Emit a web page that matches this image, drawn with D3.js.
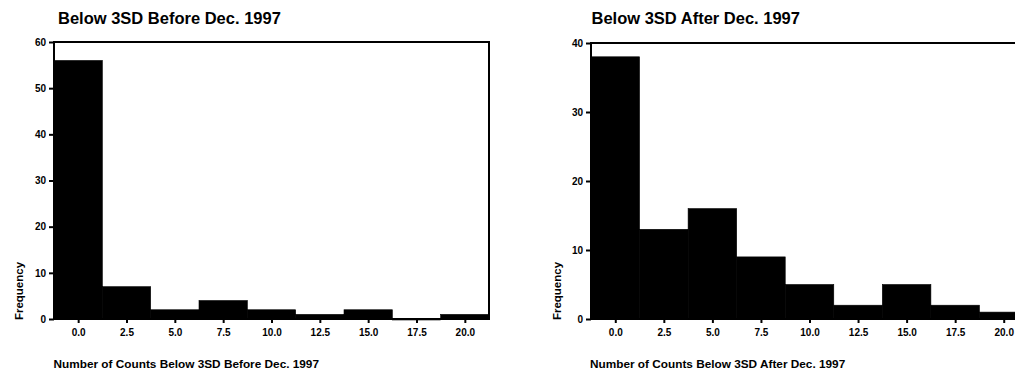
<!DOCTYPE html>
<html>
<head>
<meta charset="utf-8">
<script src="https://cdn.jsdelivr.net/npm/d3@7"></script>
<style>
  html, body { margin: 0; padding: 0; background: #fff; overflow: hidden; }
  svg { display: block; }
  text { font-family: "Liberation Sans", Arial, Helvetica, sans-serif; fill: #000; }
</style>
</head>
<body>
<svg id="chart" width="1015" height="372"></svg>
<script>
// ---- data ----
const binCenters = [0, 2.5, 5, 7.5, 10, 12.5, 15, 17.5, 20];
const binWidth = 2.5;
const beforeCounts = [56, 7, 2, 4, 2, 1, 2, 0, 1];
const afterCounts  = [38, 13, 16, 9, 5, 2, 5, 2, 1];
const beforeYTicks = [0, 10, 20, 30, 40, 50, 60];
const afterYTicks  = [0, 10, 20, 30, 40];
const titles = ["Below 3SD Before Dec. 1997", "Below 3SD After Dec. 1997"];
const xLabels = ["Number of Counts Below 3SD Before Dec. 1997", "Number of Counts Below 3SD After Dec. 1997"];
const yLabel = "Frequency";

const svg = d3.select("#chart");

const panels = [
  { counts: beforeCounts, yMax: 60, yTicks: beforeYTicks, title: titles[0], xLabel: xLabels[0],
    left: 54, right: 489, top: 42, bottom: 319, titleX: 58, labelX: 53.5, freqX: 19 },
  { counts: afterCounts, yMax: 40, yTicks: afterYTicks, title: titles[1], xLabel: xLabels[1],
    left: 591, right: 1028, top: 43, bottom: 319, titleX: 591.5, labelX: 590, freqX: 557 }
];

panels.forEach(p => {
  const g = svg.append("g");
  const x = d3.scaleLinear()
    .domain([binCenters[0] - binWidth / 2, binCenters[binCenters.length - 1] + binWidth / 2])
    .range([p.left, p.right]);
  const y = d3.scaleLinear().domain([0, p.yMax]).range([p.bottom, p.top]);

  // bars
  g.selectAll("rect.bar")
    .data(binCenters.map((c, i) => ({ c, v: p.counts[i] })))
    .enter().append("rect")
    .attr("class", "bar")
    .attr("x", d => x(d.c - binWidth / 2))
    .attr("width", d => x(d.c + binWidth / 2) - x(d.c - binWidth / 2))
    .attr("y", d => y(d.v))
    .attr("height", d => Math.max(y(0) - y(d.v), 1))
    .attr("fill", "#000")
    .attr("stroke", "#000")
    .attr("stroke-width", 0.6);

  // frame
  g.append("rect")
    .attr("x", p.left).attr("y", p.top)
    .attr("width", p.right - p.left).attr("height", p.bottom - p.top)
    .attr("fill", "none").attr("stroke", "#000").attr("stroke-width", 2);

  // y axis
  const ya = g.append("g")
    .attr("transform", `translate(${p.left},0)`)
    .call(d3.axisLeft(y).tickValues(p.yTicks).tickSize(5).tickPadding(3).tickFormat(d3.format("d")));
  ya.select(".domain").remove();
  ya.selectAll(".tick line").attr("stroke", "#000").attr("stroke-width", 2);
  ya.selectAll(".tick text").style("font-size", "10px").style("font-weight", "bold");

  // x axis
  const xa = g.append("g")
    .attr("transform", `translate(0,${p.bottom})`)
    .call(d3.axisBottom(x).tickValues(binCenters).tickSize(4).tickPadding(6).tickFormat(d3.format(".1f")));
  xa.select(".domain").remove();
  xa.selectAll(".tick line").attr("stroke", "#000").attr("stroke-width", 2);
  xa.selectAll(".tick text").style("font-size", "10px").style("font-weight", "bold");

  // title
  g.append("text")
    .attr("x", p.titleX).attr("y", 24)
    .style("font-size", "16.5px").style("font-weight", "bold")
    .text(p.title);

  // x label
  g.append("text")
    .attr("x", p.labelX).attr("y", 368)
    .style("font-size", "11.8px").style("font-weight", "bold")
    .text(p.xLabel);

  // y label
  g.append("text")
    .attr("transform", `translate(${p.freqX},291) rotate(-90)`)
    .attr("text-anchor", "middle")
    .attr("dy", "0.35em")
    .style("font-size", "11.5px")
    .style("font-weight", "bold")
    .text(yLabel);
});
</script>
</body>
</html>
